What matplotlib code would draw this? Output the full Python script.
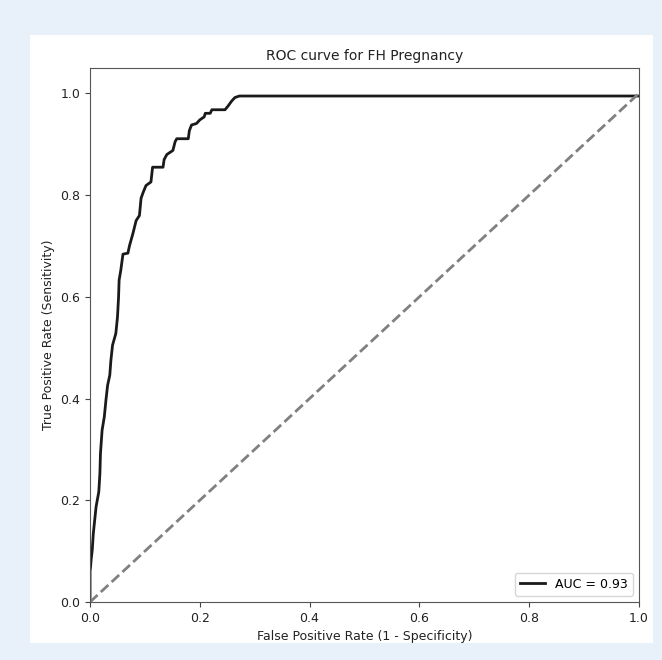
import matplotlib
matplotlib.use("Agg")
import matplotlib.pyplot as plt
from matplotlib.patches import Rectangle

# ROC points
fpr = [0.0, 0.0, 0.001, 0.002, 0.004, 0.006, 0.011, 0.016, 0.018, 0.019,
       0.022, 0.026, 0.029, 0.032, 0.036, 0.038, 0.041, 0.047, 0.050, 0.052,
       0.053, 0.056, 0.060, 0.069, 0.072, 0.078, 0.084, 0.090, 0.093, 0.097,
       0.102, 0.111, 0.114, 0.133, 0.135, 0.140, 0.151, 0.155, 0.158, 0.179,
       0.181, 0.185, 0.194, 0.200, 0.208, 0.210, 0.219, 0.222, 0.246, 0.252,
       0.258, 0.264, 0.272, 1.0]
tpr = [0.0, 0.06, 0.07, 0.083, 0.102, 0.135, 0.187, 0.217, 0.253, 0.292,
       0.338, 0.364, 0.397, 0.426, 0.446, 0.475, 0.505, 0.528, 0.560, 0.600,
       0.633, 0.652, 0.684, 0.686, 0.701, 0.724, 0.750, 0.760, 0.794, 0.806,
       0.819, 0.826, 0.855, 0.855, 0.870, 0.880, 0.888, 0.905, 0.911, 0.911,
       0.927, 0.938, 0.941, 0.948, 0.954, 0.961, 0.961, 0.968, 0.968, 0.976,
       0.985, 0.992, 0.995, 0.995]
auc = 0.93

fig = plt.figure(figsize=(6.62, 6.60), dpi=100, facecolor="#e8f0fa")
fig.add_artist(Rectangle((0.0453, 0.0258), 0.941, 0.921,
                         transform=fig.transFigure, facecolor="white",
                         edgecolor="none", zorder=-5))

ax = fig.add_axes([0.136, 0.0879, 0.829, 0.809])
ax.set_zorder(1)
ax.plot(fpr, tpr, color="#1a1a1a", lw=2, label="AUC = %.2f" % auc)
ax.plot([0, 1], [0, 1], color="gray", lw=2, linestyle="--")

ax.set_xlim(0, 1.0)
ax.set_ylim(0, 1.05)
ax.set_title("ROC curve for FH Pregnancy", fontsize=10, color="#222222")
ax.set_xlabel("False Positive Rate (1 - Specificity)", fontsize=9, color="#222222")
ax.set_ylabel("True Positive Rate (Sensitivity)", fontsize=9, color="#222222")
ax.tick_params(labelsize=9, colors="#444444", labelcolor="#222222")
for s in ax.spines.values():
    s.set_color("#555555")

ax.legend(loc="lower right", fontsize=9)

plt.savefig("out.png", dpi=100, facecolor=fig.get_facecolor())
